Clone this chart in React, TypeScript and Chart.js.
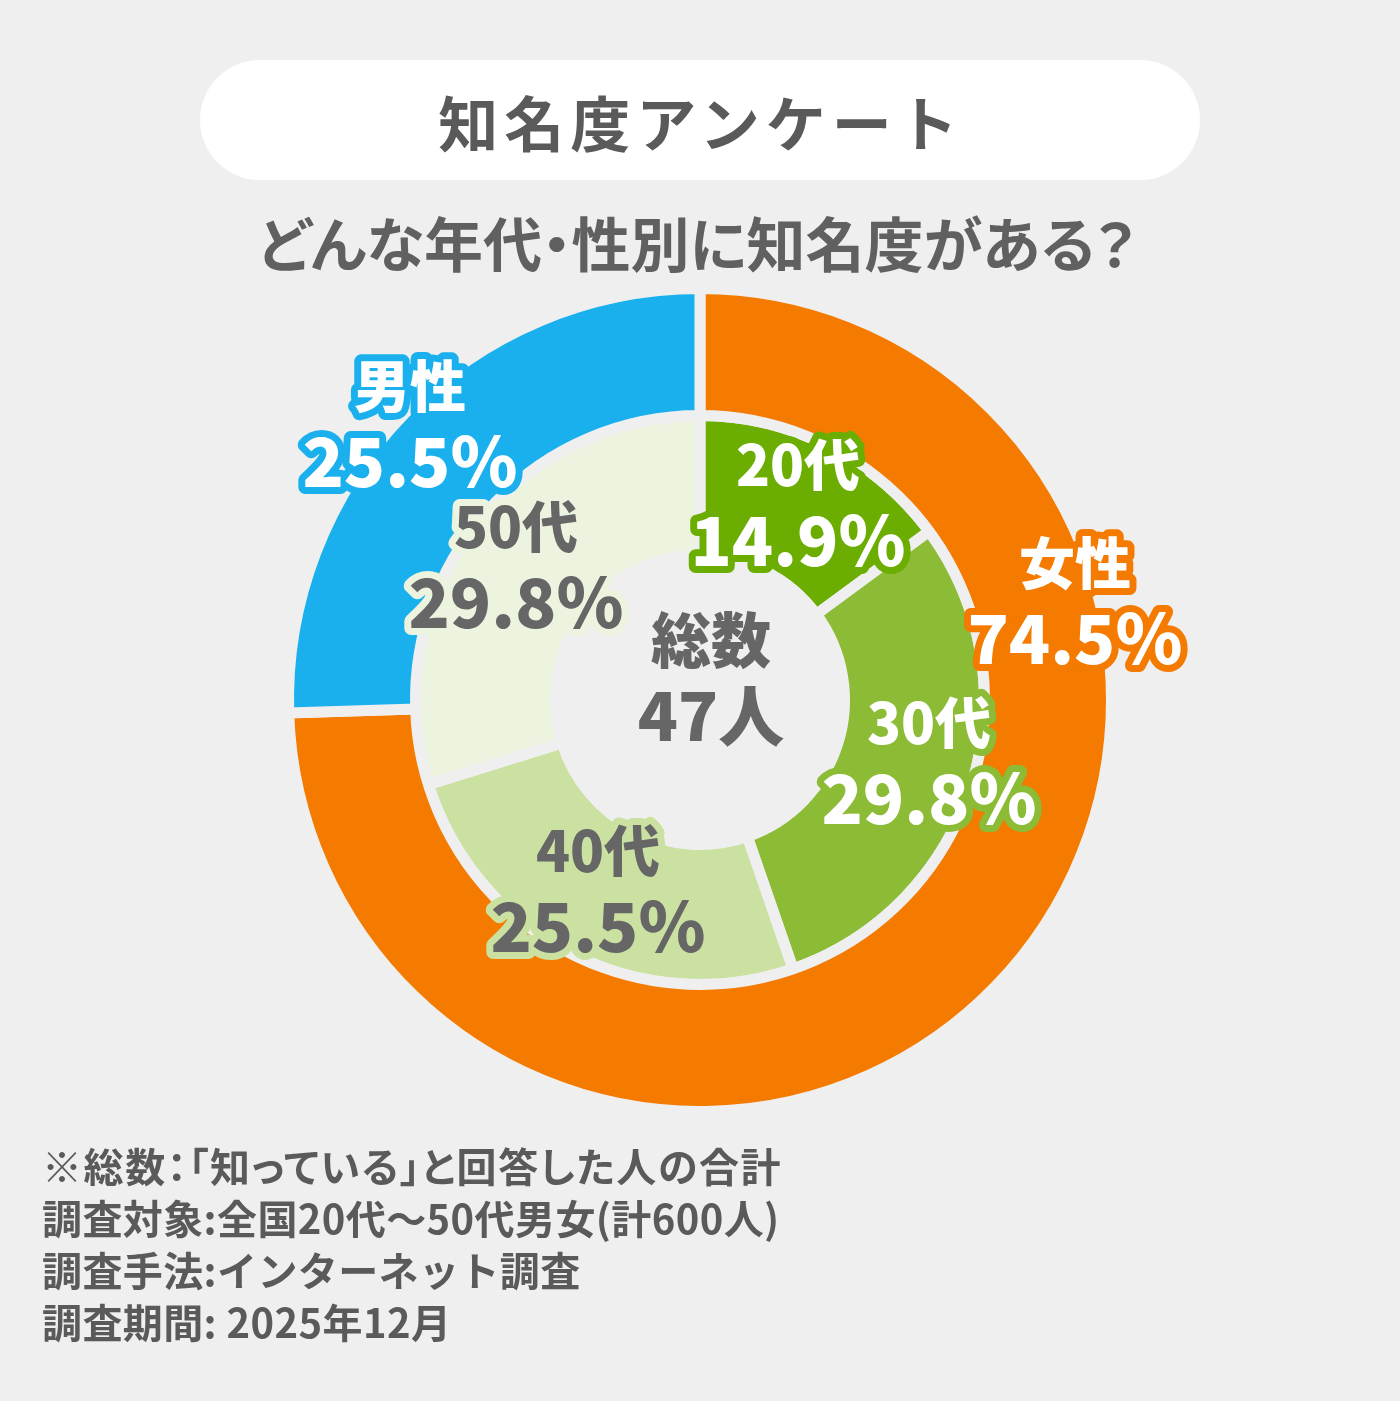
import React, { useEffect, useRef } from "react";
import { Chart, registerables } from "chart.js";

Chart.register(...registerables);

// 性別（外側の輪）
const genderLabels = ["女性", "男性"];
const genderValues = [74.5, 25.5];

// 年代（内側の輪）
const ageLabels = ["20代", "30代", "40代", "50代"];
const ageValues = [14.9, 29.8, 25.5, 29.8];

const totalLabel = "総数";
const totalCount = 47;

const notes = [
  "※総数：「知っている」と回答した人の合計",
  "調査対象:全国20代～50代男女(計600人)",
  "調査手法:インターネット調査",
  "調査期間: 2025年12月",
];

const BG = "#EFEFEF";
const TEXT = "#666666";
const FONT = '"Noto Sans CJK JP", "Noto Sans", sans-serif';

const genderColors = ["#F47A00", "#1AB0EE"];
const ageColors = ["#6BAD00", "#8CBB35", "#CBE1A2", "#ECF4E0"];
const ageTextColors = ["#FFFFFF", "#FFFFFF", TEXT, TEXT];

// label block centre relative to the doughnut centre
const genderLabelOffsets = [
  [375, -100],
  [-290, -277],
];
const ageLabelOffsets = [
  [98, -198],
  [229, 60],
  [-102, 188],
  [-184, -136],
];

const drawText = (
  ctx: CanvasRenderingContext2D,
  text: string,
  x: number,
  y: number,
  size: number,
  fill: string,
  stroke?: string
) => {
  ctx.font = `900 ${size}px ${FONT}`;
  ctx.textAlign = "center";
  ctx.textBaseline = "middle";
  if (stroke) {
    ctx.lineWidth = 14;
    ctx.lineJoin = "round";
    ctx.strokeStyle = stroke;
    ctx.strokeText(text, x, y);
  }
  ctx.fillStyle = fill;
  ctx.fillText(text, x, y);
};

const ringLabels = {
  id: "ringLabels",
  afterDatasetsDraw(chart: any) {
    const ctx: CanvasRenderingContext2D = chart.ctx;
    const arc = chart.getDatasetMeta(0).data[0];
    const cx = arc.x;
    const cy = arc.y;
    ctx.save();
    genderLabels.forEach((name, i) => {
      const [dx, dy] = genderLabelOffsets[i];
      drawText(ctx, name, cx + dx, cy + dy - 37, 56, "#FFFFFF", genderColors[i]);
      drawText(ctx, `${genderValues[i]}%`, cx + dx, cy + dy + 38, 68, "#FFFFFF", genderColors[i]);
    });
    ageLabels.forEach((name, i) => {
      const [dx, dy] = ageLabelOffsets[i];
      drawText(ctx, name, cx + dx, cy + dy - 37, 56, ageTextColors[i], ageColors[i]);
      drawText(ctx, `${ageValues[i]}%`, cx + dx, cy + dy + 38, 68, ageTextColors[i], ageColors[i]);
    });
    drawText(ctx, totalLabel, cx + 11, cy - 60, 60, TEXT);
    drawText(ctx, `${totalCount}人`, cx + 11, cy + 16, 66, TEXT);
    ctx.restore();
  },
};

const App = () => {
  const canvasRef = useRef<HTMLCanvasElement>(null);
  const chartRef = useRef<Chart | null>(null);

  useEffect(() => {
    document.body.style.margin = "0";
    if (!canvasRef.current) return;
    const ctx = canvasRef.current.getContext("2d");
    if (!ctx) return;
    chartRef.current = new Chart(ctx, {
      type: "doughnut",
      data: {
        labels: genderLabels,
        datasets: [
          {
            data: genderValues,
            backgroundColor: genderColors,
            borderColor: BG,
            borderWidth: 11,
            hoverBorderWidth: 11,
            borderJoinStyle: "miter",
            hoverOffset: 0,
            offset: 0,
            weight: 127,
          } as any,
          {
            data: ageValues,
            backgroundColor: ageColors,
            borderColor: BG,
            borderWidth: 11,
            hoverBorderWidth: 11,
            borderJoinStyle: "miter",
            hoverOffset: 0,
            offset: 0,
            weight: 140,
          } as any,
        ],
      },
      options: {
        responsive: false,
        animation: false,
        cutout: 144.5,
        layout: { padding: { left: 283, right: 283, top: 283, bottom: 284 } },
        plugins: {
          legend: { display: false },
          tooltip: { enabled: false },
        },
        events: [],
      },
      plugins: [ringLabels],
    });
    return () => {
      if (chartRef.current) {
        chartRef.current.destroy();
        chartRef.current = null;
      }
    };
  }, []);

  return (
    <div
      style={{
        position: "absolute",
        left: 0,
        top: 0,
        width: 1400,
        height: 1401,
        background: BG,
        fontFamily: FONT,
        overflow: "hidden",
      }}
    >
      <canvas
        ref={canvasRef}
        width={1400}
        height={1401}
        style={{ position: "absolute", left: 0, top: 0, width: 1400, height: 1401 }}
      />
      <div
        style={{
          position: "absolute",
          left: 200,
          top: 60,
          width: 1000,
          height: 120,
          borderRadius: 60,
          background: "#FFFFFF",
          display: "flex",
          alignItems: "center",
          justifyContent: "center",
          color: "#5A5A5A",
          fontWeight: 700,
          fontSize: 60,
          letterSpacing: 6,
          paddingLeft: 2,
          boxSizing: "border-box",
        }}
      >
        知名度アンケート
      </div>
      <div
        style={{
          position: "absolute",
          left: 0,
          top: 206,
          width: 1394,
          textAlign: "center",
          color: "#606060",
          fontWeight: 700,
          fontSize: 59,
          lineHeight: "72px",
          fontFeatureSettings: '"palt"',
        }}
      >
        どんな年代・性別に知名度がある？
      </div>
      <div
        style={{
          position: "absolute",
          left: 42,
          top: 1139,
          color: "#5A5A5A",
          fontWeight: 700,
          fontSize: 40,
          lineHeight: "52px",
          whiteSpace: "nowrap",
        }}
      >
        {notes.map((n, i) => (
          <div
            key={n}
            style={i === 0 ? { fontFeatureSettings: '"palt"', letterSpacing: 1.6 } : { letterSpacing: 0.4 }}
          >
            {n}
          </div>
        ))}
      </div>
    </div>
  );
};

export default App;
